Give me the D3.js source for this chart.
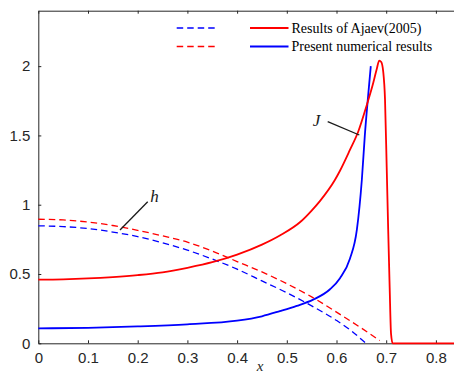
<!DOCTYPE html>
<html>
<head>
<meta charset="utf-8">
<script src="https://cdn.jsdelivr.net/npm/d3@7"></script>
<style>
  html, body { margin: 0; padding: 0; background: #fff; }
  svg { display: block; }
</style>
</head>
<body>
<svg id="chart" width="454" height="374"></svg>
<script>
// Axis ticks
const xTicks = [0, 0.1, 0.2, 0.3, 0.4, 0.5, 0.6, 0.7, 0.8];
const yTicks = [0, 0.5, 1, 1.5, 2];

// Current density J, Ajaev (2005)
const jAjaevX = [0, 0.05, 0.1, 0.15, 0.2, 0.25, 0.3, 0.35, 0.4, 0.45, 0.486, 0.527, 0.55, 0.567, 0.597, 0.607, 0.627, 0.644, 0.661, 0.674, 0.681, 0.686, 0.69, 0.694, 0.6976, 0.701, 0.704, 0.707, 0.7097, 0.713, 0.72, 0.8, 0.86];
const jAjaevY = [0.46, 0.462, 0.468, 0.478, 0.492, 0.512, 0.545, 0.585, 0.64, 0.712, 0.778, 0.875, 0.958, 1.028, 1.18, 1.245, 1.395, 1.53, 1.72, 1.88, 1.98, 2.04, 2.03, 1.96, 1.76, 1.27, 0.82, 0.4, 0.07, 0, 0, 0, 0];

// Current density J, present numerical results
const jPresentX = [0, 0.1, 0.2, 0.3, 0.4, 0.45, 0.486, 0.52, 0.553, 0.587, 0.607, 0.627, 0.641, 0.651, 0.657, 0.664, 0.669];
const jPresentY = [0.108, 0.112, 0.122, 0.137, 0.163, 0.195, 0.232, 0.27, 0.315, 0.39, 0.47, 0.61, 0.82, 1.18, 1.5, 1.8, 2.0];

// Film thickness h, Ajaev (2005)
const hAjaevX = [0, 0.05, 0.1, 0.15, 0.2, 0.25, 0.3, 0.35, 0.4, 0.45, 0.5, 0.55, 0.6, 0.65, 0.687];
const hAjaevY = [0.895, 0.89, 0.875, 0.85, 0.815, 0.775, 0.73, 0.665, 0.59, 0.515, 0.43, 0.335, 0.225, 0.11, 0.02];

// Film thickness h, present numerical results
const hPresentX = [0, 0.05, 0.1, 0.15, 0.2, 0.25, 0.3, 0.35, 0.4, 0.45, 0.5, 0.55, 0.6, 0.63, 0.659];
const hPresentY = [0.848, 0.842, 0.828, 0.803, 0.77, 0.725, 0.672, 0.608, 0.535, 0.45, 0.365, 0.27, 0.165, 0.09, 0];

const RED = "#ff0000", BLUE = "#0000ff";
const margin = { left: 38.3, top: 10.7, bottom: 343.3 };

const svg = d3.select("#chart");
const x = d3.scaleLinear().domain([0, 0.85]).range([margin.left, margin.left + 0.85 * 497]);
const y = d3.scaleLinear().domain([0, 2.4]).range([margin.bottom, margin.top]);

const tickFont = "'Liberation Sans', Arial, sans-serif";
const serif = "'Liberation Serif', 'Times New Roman', serif";

// Axes with inward ticks
const gx = svg.append("g").attr("transform", `translate(0,${margin.bottom})`)
  .call(d3.axisBottom(x).tickValues(xTicks).tickSizeInner(-3).tickSizeOuter(0).tickPadding(9).tickFormat(d3.format("")));
const gTop = svg.append("g").attr("transform", `translate(0,${margin.top})`)
  .call(d3.axisTop(x).tickValues(xTicks).tickSizeInner(-3).tickSizeOuter(0).tickFormat(""));
const gy = svg.append("g").attr("transform", `translate(${margin.left},0)`)
  .call(d3.axisLeft(y).tickValues(yTicks).tickSizeInner(-3).tickSizeOuter(0).tickPadding(8).tickFormat(d3.format("")));

[gx, gTop, gy].forEach(g => {
  g.select(".domain").attr("stroke", "#262626").attr("stroke-width", 1);
  g.selectAll(".tick line").attr("stroke", "#262626");
  g.selectAll("text").attr("fill", "#262626").style("font-family", tickFont).style("font-size", "15px");
});
gx.selectAll("text").attr("dy", "0.71em");

const smooth = d3.line().x(d => x(d[0])).y(d => y(d[1])).curve(d3.curveMonotoneX);
const pairs = (xs, ys) => xs.map((v, i) => [v, ys[i]]);

const plot = svg.append("g");
plot.append("path").datum(pairs(hPresentX, hPresentY)).attr("d", smooth)
  .attr("fill", "none").attr("stroke", BLUE).attr("stroke-width", 1.3).attr("stroke-dasharray", "6.5,4");
plot.append("path").datum(pairs(hAjaevX, hAjaevY)).attr("d", smooth)
  .attr("fill", "none").attr("stroke", RED).attr("stroke-width", 1.3).attr("stroke-dasharray", "6.5,4");
plot.append("path").datum(pairs(jPresentX, jPresentY)).attr("d", smooth)
  .attr("fill", "none").attr("stroke", BLUE).attr("stroke-width", 1.8);
plot.append("path").datum(pairs(jAjaevX, jAjaevY)).attr("d", smooth)
  .attr("fill", "none").attr("stroke", RED).attr("stroke-width", 1.8);

// Curve annotations
svg.append("line").attr("x1", 327.7).attr("y1", 121.7).attr("x2", 359.3).attr("y2", 135)
  .attr("stroke", "#1a1a1a").attr("stroke-width", 1.3);
svg.append("text").attr("x", 316.5).attr("y", 126).text("J")
  .style("font-family", serif).style("font-style", "italic").style("font-size", "17px").attr("fill", "#1a1a1a").attr("text-anchor", "middle");
svg.append("line").attr("x1", 147.7).attr("y1", 201.7).attr("x2", 120).attr("y2", 230)
  .attr("stroke", "#1a1a1a").attr("stroke-width", 1.3);
svg.append("text").attr("x", 154.5).attr("y", 202).text("h")
  .style("font-family", serif).style("font-style", "italic").style("font-size", "17px").attr("fill", "#1a1a1a").attr("text-anchor", "middle");

// Axis label
svg.append("text").attr("x", 260).attr("y", 371).text("x")
  .style("font-family", serif).style("font-style", "italic").style("font-size", "15px").attr("fill", "#262626").attr("text-anchor", "middle");

// Legend
const legend = [
  { y: 28, dash: BLUE, solid: RED, label: "Results of Ajaev(2005)" },
  { y: 46.5, dash: RED, solid: BLUE, label: "Present numerical results" }
];
const lg = svg.append("g");
legend.forEach(r => {
  lg.append("line").attr("x1", 176.7).attr("x2", 215).attr("y1", r.y).attr("y2", r.y)
    .attr("stroke", r.dash).attr("stroke-width", 1.3).attr("stroke-dasharray", "6.5,4");
  lg.append("line").attr("x1", 250).attr("x2", 288.5).attr("y1", r.y).attr("y2", r.y)
    .attr("stroke", r.solid).attr("stroke-width", 1.8);
  lg.append("text").attr("x", 291.5).attr("y", r.y + 4.5).text(r.label)
    .style("font-family", serif).style("font-size", "14px").attr("fill", "#000");
});
</script>
</body>
</html>
